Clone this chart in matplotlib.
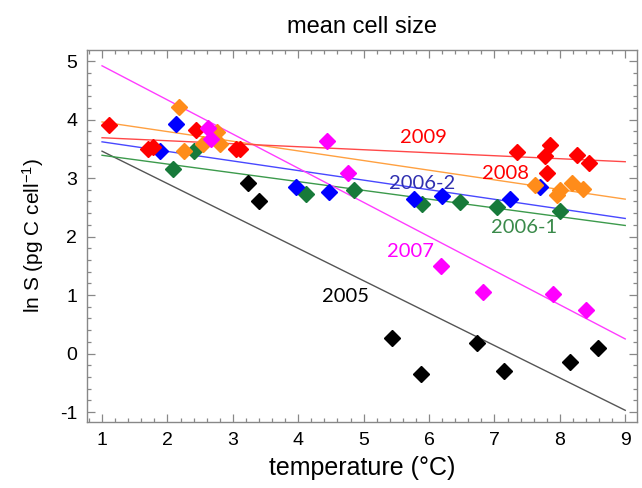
import matplotlib
matplotlib.use("Agg")
import matplotlib.pyplot as plt
from matplotlib.ticker import MultipleLocator

plt.rcParams["mathtext.fontset"] = "custom"
plt.rcParams["mathtext.rm"] = "Liberation Sans"
plt.rcParams["mathtext.it"] = "Liberation Sans:italic"
plt.rcParams["mathtext.bf"] = "Liberation Sans:bold"

# ---- data ----
x_2005 = [3.23, 3.40, 5.44, 5.88, 6.74, 7.15, 8.16, 8.59]
y_2005 = [2.91, 2.60, 0.27, -0.35, 0.18, -0.30, -0.15, 0.09]

x_2006_1 = [2.08, 2.41, 4.12, 4.85, 5.89, 6.48, 7.04, 8.00]
y_2006_1 = [3.15, 3.46, 2.73, 2.80, 2.56, 2.59, 2.51, 2.43]

x_2006_2 = [1.88, 2.13, 3.96, 4.47, 5.77, 6.20, 7.24, 7.69]
y_2006_2 = [3.46, 3.92, 2.85, 2.77, 2.65, 2.69, 2.65, 2.85]

x_2007 = [2.62, 2.66, 4.44, 4.76, 6.19, 6.82, 7.90, 8.40]
y_2007 = [3.86, 3.66, 3.63, 3.09, 1.49, 1.06, 1.02, 0.75]

x_2008 = [2.18, 2.25, 2.54, 2.76, 2.80, 7.62, 7.96, 8.01, 8.19, 8.36]
y_2008 = [4.22, 3.46, 3.59, 3.79, 3.59, 2.88, 2.71, 2.79, 2.92, 2.81]

x_2009 = [1.10, 1.71, 1.78, 2.43, 3.05, 3.11, 7.34, 7.77, 7.80, 7.85, 8.26, 8.45]
y_2009 = [3.90, 3.49, 3.53, 3.82, 3.50, 3.49, 3.44, 3.38, 3.09, 3.56, 3.39, 3.25]

fit_x = [1.0, 9.0]
fit_2005 = [3.46, -0.97]
fit_2006_1 = [3.39, 2.19]
fit_2006_2 = [3.62, 2.31]
fit_2007 = [4.92, 0.25]
fit_2008 = [3.96, 2.64]
fit_2009 = [3.69, 3.28]

series_labels = ["2005", "2006-1", "2006-2", "2007", "2008", "2009"]
label_x = [4.72, 7.45, 5.90, 5.72, 7.17, 5.92]
label_y = [0.98, 2.16, 2.91, 1.75, 3.08, 3.70]

x_ticks = [1, 2, 3, 4, 5, 6, 7, 8, 9]
y_ticks = [-1, 0, 1, 2, 3, 4, 5]

# ---- figure ----
fig = plt.figure(figsize=(6.42, 4.88), dpi=100)
ax = fig.add_axes([87/642, 1-422/488, (637-87)/642, (422-50)/488])

line_cols = {"2005": "#555555", "2006-1": "#3c9a4c", "2006-2": "#4848ff",
             "2007": "#ff3cff", "2008": "#ffa040", "2009": "#ff4848"}
mk_cols = {"2005": "#000000", "2006-1": "#177a3a", "2006-2": "#0000ff",
           "2007": "#ff00ff", "2008": "#ff8c1a", "2009": "#ff0000"}
txt_cols = {"2005": "#000000", "2006-1": "#3a8a4a", "2006-2": "#3030b0",
            "2007": "#ff00ff", "2008": "#ff0000", "2009": "#ff0000"}

fits = {"2005": fit_2005, "2006-1": fit_2006_1, "2006-2": fit_2006_2,
        "2007": fit_2007, "2008": fit_2008, "2009": fit_2009}
pts = {"2005": (x_2005, y_2005), "2006-1": (x_2006_1, y_2006_1),
       "2006-2": (x_2006_2, y_2006_2), "2007": (x_2007, y_2007),
       "2008": (x_2008, y_2008), "2009": (x_2009, y_2009)}

for k in series_labels:
    ax.plot(fit_x, fits[k], color=line_cols[k], lw=1.0, zorder=2)

for k in ["2005", "2006-1", "2006-2", "2008", "2009", "2007"]:
    xs, ys = pts[k]
    ax.plot(xs, ys, linestyle="none", marker="D", ms=7.8,
            color=mk_cols[k], mec=mk_cols[k], zorder=3)

for k, lx, ly in zip(series_labels, label_x, label_y):
    ax.text(lx, ly, k, color=txt_cols[k], fontsize=14.5, family="Lato",
            ha="center", va="center", zorder=4)

ax.set_xlim(0.77, 9.18)
ax.set_ylim(-1.17, 5.19)
ax.set_xticks(x_ticks)
ax.set_yticks(y_ticks)
ax.set_xticklabels([str(v) for v in x_ticks])
ax.set_yticklabels([str(v) for v in y_ticks])
ax.xaxis.set_minor_locator(MultipleLocator(0.2))
ax.yaxis.set_minor_locator(MultipleLocator(0.2))

for s in ax.spines.values():
    s.set_color("#888888")
    s.set_linewidth(1.0)
ax.tick_params(which="both", direction="in", top=True, right=True,
               color="#888888", width=0.9)
ax.tick_params(which="major", length=6, labelsize=14, pad=7)
ax.tick_params(which="minor", length=3)
for lab in ax.get_xticklabels() + ax.get_yticklabels():
    lab.set_family("Liberation Sans")

ax.set_xlabel("temperature (°C)", fontsize=18, family="Liberation Sans", labelpad=5)
ax.set_ylabel("ln S (pg C cell$^{\\mathregular{-1}}$)", fontsize=15,
              family="Liberation Sans", labelpad=10)
ax.set_title("mean cell size", fontsize=17, family="Liberation Sans", pad=12)

fig.savefig("out.png", dpi=100)
